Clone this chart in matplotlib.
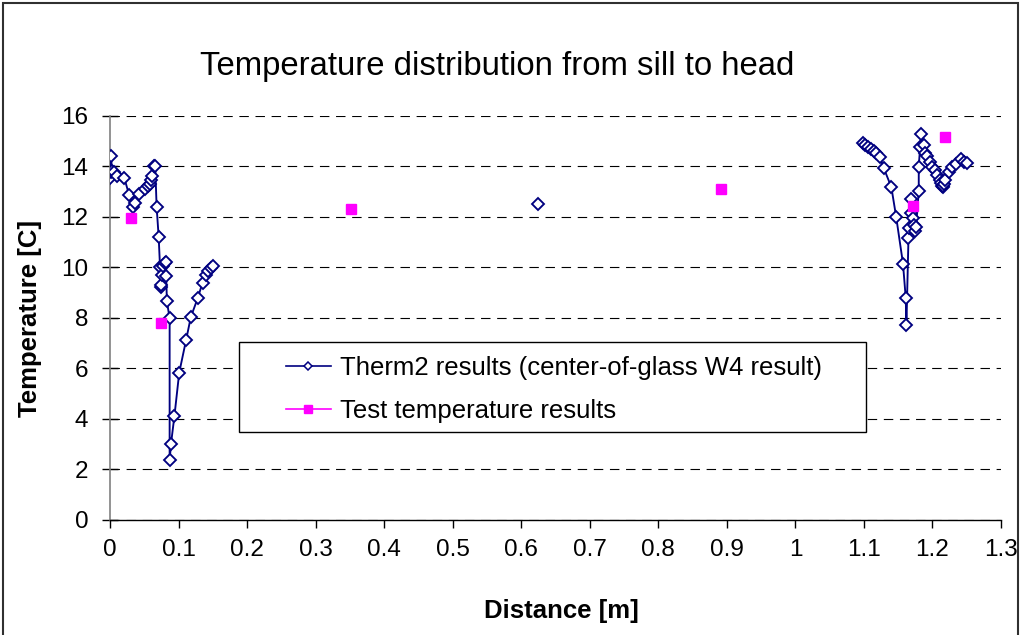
import numpy as np
import matplotlib
matplotlib.use("Agg")
import matplotlib.pyplot as plt
from matplotlib.lines import Line2D
from matplotlib.patches import Rectangle

# ---- data ----
therm_left_x = [0.000, 0.001, 0.0015, 0.003, 0.006, 0.010, 0.021, 0.028, 0.034, 0.036,
                0.043, 0.051, 0.055, 0.058, 0.060, 0.062, 0.064, 0.066, 0.068, 0.071,
                0.073, 0.074, 0.075, 0.076, 0.078, 0.080, 0.082, 0.082, 0.083, 0.087,
                0.087, 0.089, 0.094, 0.101, 0.111, 0.118, 0.128, 0.135, 0.140, 0.143,
                0.147, 0.150]
therm_left_y = [13.55, 13.75, 14.40, 13.80, 13.75, 13.60, 13.52, 12.85, 12.40, 12.55,
                12.90, 13.10, 13.20, 13.30, 13.45, 13.60, 14.00, 14.00, 12.40, 11.20,
                10.00, 9.20, 9.30, 9.70, 10.05, 10.15, 10.20, 9.65, 8.65, 7.97,
                2.35, 3.00, 4.10, 5.82, 7.11, 8.03, 8.77, 9.38, 9.70, 9.85,
                9.98, 10.06]
therm_mid_x = [0.625]
therm_mid_y = [12.50]
therm_right_x = [1.099, 1.102, 1.106, 1.110, 1.114, 1.118, 1.123, 1.129, 1.140, 1.147,
                 1.157, 1.161, 1.162, 1.165, 1.166, 1.168, 1.169, 1.171, 1.173, 1.175,
                 1.176, 1.180, 1.180, 1.182, 1.184, 1.187, 1.189, 1.192, 1.196, 1.200,
                 1.204, 1.207, 1.211, 1.213, 1.214, 1.215, 1.216, 1.217, 1.219, 1.224,
                 1.229, 1.235, 1.242, 1.246, 1.250]
therm_right_y = [14.91, 14.84, 14.77, 14.67, 14.60, 14.51, 14.38, 13.92, 13.17, 12.00,
                 10.14, 8.78, 7.70, 11.15, 11.55, 12.14, 12.70, 11.95, 11.65, 11.45,
                 11.60, 13.00, 13.98, 14.77, 15.26, 14.84, 14.54, 14.40, 14.18, 13.98,
                 13.85, 13.65, 13.46, 13.33, 13.22, 13.17, 13.20, 13.30, 13.46, 13.75,
                 13.98, 14.09, 14.27, 14.18, 14.14]

test_x = [0.031, 0.075, 0.352, 0.892, 1.171, 1.218]
test_y = [11.96, 7.80, 12.29, 13.08, 12.43, 15.17]

x_ticks = [0, 0.1, 0.2, 0.3, 0.4, 0.5, 0.6, 0.7, 0.8, 0.9, 1, 1.1, 1.2, 1.3]
x_tick_labels = ["0", "0.1", "0.2", "0.3", "0.4", "0.5", "0.6", "0.7", "0.8", "0.9",
                 "1", "1.1", "1.2", "1.3"]
y_ticks = [0, 2, 4, 6, 8, 10, 12, 14, 16]

title = "Temperature distribution from sill to head"
xlabel = "Distance [m]"
ylabel = "Temperature [C]"
label_therm = "Therm2 results (center-of-glass W4 result)"
label_test = "Test temperature results"

# ---- figure ----
plt.rcParams['font.family'] = ['Liberation Sans', 'DejaVu Sans']
W, H = 1025, 635
fig = plt.figure(figsize=(W / 100, H / 100), dpi=100)
ax = fig.add_axes([110 / W, 1 - 519.5 / H, (1001 - 110) / W, (519.5 - 115.7) / H])

NAVY = '#000080'
MAG = '#FF00FF'

# series 1 with gaps (blank cells)
sx = therm_left_x + [np.nan] + therm_mid_x + [np.nan] + therm_right_x
sy = therm_left_y + [np.nan] + therm_mid_y + [np.nan] + therm_right_y
ax.plot(sx, sy, color=NAVY, lw=1.35, marker='D', ms=6.0, mfc='white',
        mec=NAVY, mew=1.35, zorder=3)
ax.plot(test_x, test_y, ls='none', marker='s', ms=7, mfc=MAG, mec=MAG, zorder=4)

ax.set_xlim(0, 1.3)
ax.set_ylim(0, 16)
ax.set_xticks(x_ticks)
ax.set_xticklabels(x_tick_labels)
ax.set_yticks(y_ticks)

ax.yaxis.grid(True, linestyle=(0, (8.5, 6)), color='black', lw=0.8)
ax.set_axisbelow(True)

for s in ['top', 'right']:
    ax.spines[s].set_visible(False)
ax.spines['left'].set_color('#808080')
ax.spines['left'].set_linewidth(1.2)
ax.spines['bottom'].set_color('black')
ax.spines['bottom'].set_linewidth(1.0)

ax.tick_params(axis='x', direction='out', length=5.4, width=1, pad=9,
               labelsize=17.5, colors='black')
ax.tick_params(axis='y', direction='inout', length=11.5, width=1, pad=10,
               labelsize=17.5, colors='black')

# title and axis labels
fig.text(497 / W, 1 - 75 / H, title, ha='center', va='baseline', fontsize=23.7)
fig.text(561 / W, 1 - 611 / H, xlabel, ha='center', va='center',
         fontsize=18.5, fontweight='bold')
fig.text(30 / W, 1 - 318 / H, ylabel, ha='center', va='center', rotation=90,
         fontsize=18.5, fontweight='bold')

# legend
handles = [Line2D([], [], color=NAVY, lw=1.2, marker='D', ms=4.2, mfc='white',
                  mec=NAVY, mew=1.1),
           Line2D([], [], color=MAG, lw=1.2, marker='s', ms=6, mfc=MAG, mec=MAG)]
leg = fig.legend(handles, [label_therm, label_test], loc='upper left',
                 bbox_to_anchor=(286 / W, 1 - 356 / H), frameon=False,
                 fontsize=18.5, handlelength=1.75, handletextpad=0.35,
                 labelspacing=0.72, borderpad=0, borderaxespad=0)
fig.patches.append(Rectangle((239 / W, 1 - 432 / H), (866 - 239) / W, (432 - 342) / H,
                             transform=fig.transFigure, fill=True, facecolor='white',
                             edgecolor='black', lw=1.0, zorder=5))
leg.set_zorder(6)

# outer chart border
fig.patches.append(Rectangle((3 / W, -0.05), (1018 - 3) / W, 1.05 - 3 / H,
                             transform=fig.transFigure, fill=False,
                             edgecolor='#303030', lw=1.5))

fig.savefig("out.png", dpi=100)
